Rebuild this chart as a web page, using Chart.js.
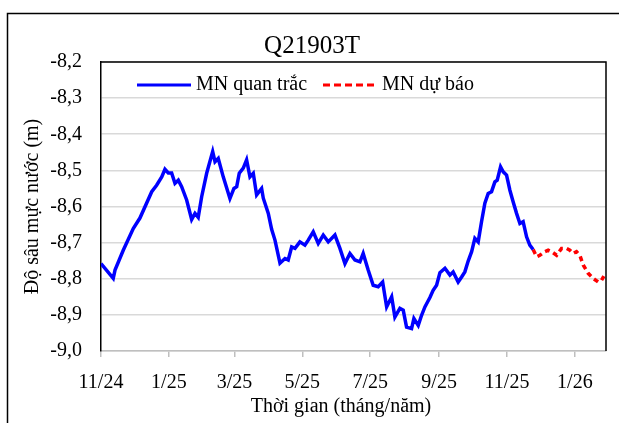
<!DOCTYPE html>
<html>
<head>
<meta charset="utf-8">
<script src="https://cdn.jsdelivr.net/npm/chart.js@4"></script>
<style>
  body { margin: 0; background: #fff; }
  canvas { display: block; }
</style>
</head>
<body>
<canvas id="chart" width="619" height="423"></canvas>
<script>
// days counted from 1 Nov 2024
const tickDays = [0, 61, 120, 181, 242, 304, 365, 426];
const tickLabels = ["11/24", "1/25", "3/25", "5/25", "7/25", "9/25", "11/25", "1/26"];

// MN quan trắc (observed)
const obsDays = [
  0, 11, 12.6, 20, 29, 35, 45.6, 50, 54.6, 57.5, 60.5, 63.5, 66.5, 69.5, 72.5, 77, 81.5, 84.5, 87.4, 90.5,
  95, 100.4, 102.5, 105.4, 109.9, 115.9, 119.5, 122, 124.3, 127.9, 130.9, 133.9, 136.9, 139.9, 144.4, 145.9, 150.4, 153.4, 156.4, 160.9,
  165.4, 168.3, 171.4, 174.4, 178.8, 183.3, 186.3, 190.8, 195.3, 199.8, 204.3, 210.3, 214.8, 219.3, 223.8, 228.3, 232.8, 235.7, 240.2, 244.7,
  249.2, 253.2, 256.8, 261.3, 264.2, 268.7, 271.7, 274.7, 279.2, 281.3, 285.2, 288.2, 291.2, 295.7, 298.6, 301.7, 304.7, 309.2, 313.7, 316.6,
  321.1, 324.2, 327.1, 330.1, 333.2, 336.1, 339.1, 342.1, 345.1, 348.1, 351.1, 354.1, 356.2, 359.2, 361.6, 364.6, 367.6, 370.5, 373.6, 376.6,
  379.5, 382.6, 385.5, 388.5
];
const obsVals = [
  -8.758, -8.799, -8.776, -8.721, -8.661, -8.632, -8.559, -8.541, -8.518, -8.497, -8.507, -8.507, -8.536, -8.527, -8.545, -8.582, -8.636, -8.619, -8.630, -8.573,
  -8.508, -8.448, -8.476, -8.467, -8.518, -8.578, -8.550, -8.545, -8.508, -8.494, -8.471, -8.518, -8.508, -8.568, -8.550, -8.577, -8.619, -8.663, -8.693, -8.757,
  -8.744, -8.748, -8.712, -8.716, -8.698, -8.707, -8.693, -8.670, -8.702, -8.679, -8.698, -8.679, -8.716, -8.758, -8.730, -8.748, -8.753, -8.730, -8.776, -8.818,
  -8.822, -8.809, -8.878, -8.850, -8.906, -8.882, -8.887, -8.934, -8.938, -8.910, -8.929, -8.901, -8.878, -8.852, -8.832, -8.818, -8.783, -8.771, -8.790, -8.781,
  -8.809, -8.795, -8.781, -8.751, -8.725, -8.688, -8.698, -8.642, -8.591, -8.564, -8.559, -8.532, -8.527, -8.490, -8.504, -8.513, -8.555, -8.587, -8.619, -8.647,
  -8.642, -8.684, -8.707, -8.719
];

// MN dự báo (forecast)
const fcDays = [388.5, 391.6, 394.5, 399, 402, 405.1, 409.6, 414, 418.5, 421.5, 424.5, 427.5, 430.5, 433.5, 438, 442.4, 446.9, 450, 452.1];
const fcVals = [-8.719, -8.739, -8.735, -8.725, -8.721, -8.725, -8.735, -8.716, -8.716, -8.721, -8.730, -8.725, -8.735, -8.762, -8.785, -8.799, -8.809, -8.804, -8.793];

const FONT = "'Liberation Serif', 'Times New Roman', serif";

const toPoints = (xs, ys) => xs.map((x, i) => ({ x: x, y: ys[i] }));

const decorations = {
  id: "decorations",
  afterDraw(chart) {
    const ctx = chart.ctx;
    const a = chart.chartArea;
    ctx.save();
    // outer frame (left and top only visible)
    ctx.strokeStyle = "#000";
    ctx.lineWidth = 1.5;
    ctx.beginPath();
    ctx.moveTo(7.5, 423);
    ctx.lineTo(7.5, 13.5);
    ctx.lineTo(619, 13.5);
    ctx.stroke();
    // plot border top + right
    ctx.beginPath();
    ctx.moveTo(a.left, a.top);
    ctx.lineTo(a.right, a.top);
    ctx.lineTo(a.right, a.bottom);
    ctx.stroke();

    // title
    ctx.fillStyle = "#000";
    ctx.textBaseline = "middle";
    ctx.textAlign = "center";
    ctx.font = "25px " + FONT;
    ctx.fillText("Q21903T", 312, 46);

    // legend
    ctx.lineWidth = 3;
    ctx.strokeStyle = "#0000ff";
    ctx.beginPath();
    ctx.moveTo(137, 85);
    ctx.lineTo(191, 85);
    ctx.stroke();
    ctx.strokeStyle = "#ff0000";
    ctx.setLineDash([7, 4]);
    ctx.beginPath();
    ctx.moveTo(323, 85);
    ctx.lineTo(378, 85);
    ctx.stroke();
    ctx.setLineDash([]);
    ctx.font = "20px " + FONT;
    ctx.textAlign = "left";
    ctx.fillText("MN quan trắc", 196, 85);
    ctx.fillText("MN dự báo", 382, 85);

    // x axis title
    ctx.textAlign = "center";
    ctx.fillText("Thời gian (tháng/năm)", 341, 407);
    ctx.restore();
  }
};

new Chart(document.getElementById("chart"), {
  type: "line",
  data: {
    datasets: [
      {
        label: "MN quan trắc",
        data: toPoints(obsDays, obsVals),
        borderColor: "#0000ff",
        borderWidth: 3.5,
        pointRadius: 0,
        tension: 0
      },
      {
        label: "MN dự báo",
        data: toPoints(fcDays, fcVals),
        borderColor: "#ff0000",
        borderWidth: 3.5,
        borderDash: [5, 4],
        pointRadius: 0,
        tension: 0
      }
    ]
  },
  options: {
    responsive: false,
    animation: false,
    devicePixelRatio: 1,
    layout: { padding: { left: 0, right: 13, top: 62, bottom: 0 } },
    plugins: {
      legend: { display: false },
      tooltip: { enabled: false },
      title: { display: false }
    },
    scales: {
      x: {
        type: "linear",
        min: 0,
        max: 454,
        afterBuildTicks: scale => {
          scale.ticks = tickDays.map(v => ({ value: v }));
        },
        afterFit: scale => { scale.height = 72; },
        ticks: {
          autoSkip: false,
          maxRotation: 0,
          padding: 14,
          color: "#000",
          font: { family: FONT, size: 20 },
          callback: (v, i) => tickLabels[i]
        },
        grid: { drawOnChartArea: false, drawTicks: true, tickLength: 6, color: "#bfbfbf", lineWidth: 1.5 },
        border: { color: "#bfbfbf", width: 1.5 }
      },
      y: {
        min: -9,
        max: -8.2,
        afterFit: scale => { scale.width = 101; },
        ticks: {
          stepSize: 0.1,
          padding: 19,
          color: "#000",
          font: { family: FONT, size: 20 },
          callback: v => v.toFixed(1).replace(".", ",")
        },
        grid: { color: "#d9d9d9", lineWidth: 1.5, drawTicks: false },
        border: { color: "#000", width: 1.5 },
        title: {
          display: true,
          text: "Độ sâu mực nước (m)",
          color: "#000",
          font: { family: FONT, size: 20 },
          padding: { top: 21, bottom: 0 }
        }
      }
    }
  },
  plugins: [decorations]
});
</script>
</body>
</html>
